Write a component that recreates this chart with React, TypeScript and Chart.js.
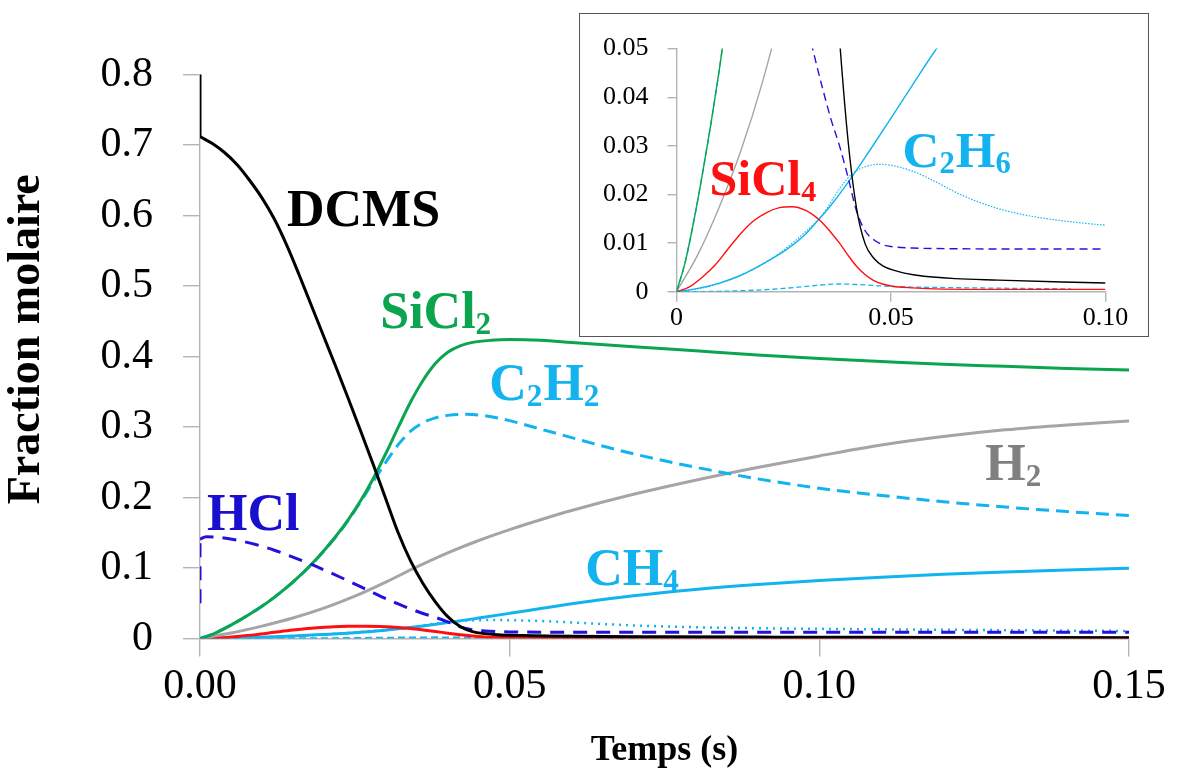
import React, { useEffect, useRef } from 'react';
import { Chart, registerables } from 'chart.js';

Chart.register(...registerables);

const FONT = '"Liberation Serif", "Times New Roman", serif';
const GREY = '#b4b4b4';

// ---------- data (time in s, molar fraction) ----------
// a repeated first time value marks the initial jump drawn as a vertical segment
const DCMS_T = [0, 0, 0.002, 0.004, 0.006, 0.008, 0.010, 0.012, 0.014, 0.016, 0.018, 0.020, 0.022, 0.024, 0.026, 0.028, 0.030, 0.032, 0.034, 0.036, 0.038, 0.040, 0.042, 0.044, 0.046, 0.048, 0.052, 0.056, 0.065, 0.075, 0.09, 0.10, 0.12, 0.15];
const DCMS_Y = [0.80, 0.712, 0.702, 0.689, 0.672, 0.650, 0.625, 0.595, 0.558, 0.516, 0.472, 0.428, 0.384, 0.339, 0.293, 0.246, 0.198, 0.150, 0.110, 0.078, 0.052, 0.031, 0.017, 0.0098, 0.0069, 0.0054, 0.0041, 0.0034, 0.0027, 0.0024, 0.0020, 0.0018, 0.0015, 0.0012];

const SICL2_T = [0, 0.002, 0.004, 0.006, 0.008, 0.010, 0.012, 0.014, 0.016, 0.018, 0.020, 0.022, 0.024, 0.026, 0.028, 0.030, 0.032, 0.034, 0.036, 0.038, 0.040, 0.042, 0.044, 0.047, 0.050, 0.055, 0.060, 0.070, 0.080, 0.090, 0.100, 0.110, 0.120, 0.130, 0.140, 0.150];
const SICL2_Y = [0, 0.0060, 0.0144, 0.0240, 0.0344, 0.0458, 0.0584, 0.0724, 0.0880, 0.1054, 0.1246, 0.1458, 0.1694, 0.1964, 0.2274, 0.2624, 0.2994, 0.3354, 0.3660, 0.3900, 0.4060, 0.4150, 0.4200, 0.4230, 0.4240, 0.4230, 0.4200, 0.4140, 0.4080, 0.4020, 0.3970, 0.3930, 0.3890, 0.3860, 0.3830, 0.3810];

const C2H2_T = [0, 0.002, 0.004, 0.006, 0.008, 0.010, 0.012, 0.014, 0.016, 0.018, 0.020, 0.022, 0.024, 0.026, 0.028, 0.030, 0.032, 0.034, 0.036, 0.038, 0.040, 0.043, 0.046, 0.050, 0.055, 0.060, 0.065, 0.070, 0.075, 0.080, 0.085, 0.090, 0.095, 0.100, 0.110, 0.120, 0.130, 0.140, 0.150];
const C2H2_Y = [0, 0.0060, 0.0144, 0.0240, 0.0344, 0.0458, 0.0584, 0.0724, 0.0878, 0.1050, 0.1240, 0.1450, 0.1682, 0.1950, 0.2230, 0.2500, 0.2750, 0.2940, 0.3060, 0.3130, 0.3165, 0.3180, 0.3160, 0.3090, 0.2970, 0.2850, 0.2730, 0.2620, 0.2520, 0.2430, 0.2345, 0.2265, 0.2195, 0.2130, 0.2030, 0.1940, 0.1865, 0.1800, 0.1745];

const H2_T = [0, 0.005, 0.010, 0.015, 0.020, 0.025, 0.030, 0.035, 0.040, 0.045, 0.050, 0.055, 0.060, 0.070, 0.080, 0.090, 0.100, 0.110, 0.120, 0.130, 0.140, 0.150];
const H2_Y = [0, 0.0077, 0.0175, 0.0290, 0.0430, 0.0600, 0.0800, 0.1015, 0.1215, 0.1390, 0.1545, 0.1685, 0.1815, 0.2045, 0.2245, 0.2425, 0.2590, 0.2745, 0.2865, 0.2960, 0.3030, 0.3085];

const HCL_T = [0, 0, 0.001, 0.003, 0.006, 0.009, 0.012, 0.015, 0.018, 0.021, 0.024, 0.027, 0.030, 0.032, 0.034, 0.036, 0.038, 0.040, 0.042, 0.044, 0.046, 0.048, 0.050, 0.055, 0.060, 0.080, 0.100, 0.120, 0.150];
const HCL_Y = [0.05, 0.141, 0.1444, 0.1435, 0.1395, 0.1333, 0.1252, 0.1155, 0.1050, 0.0935, 0.0815, 0.0690, 0.0565, 0.0490, 0.0420, 0.0355, 0.0300, 0.0235, 0.0165, 0.0125, 0.0107, 0.0097, 0.0093, 0.0090, 0.0089, 0.0088, 0.0088, 0.0088, 0.0088];

const CH4_T = [0, 0.005, 0.010, 0.015, 0.020, 0.025, 0.030, 0.033, 0.036, 0.040, 0.045, 0.050, 0.055, 0.060, 0.065, 0.070, 0.080, 0.090, 0.100, 0.110, 0.120, 0.130, 0.140, 0.150];
const CH4_Y = [0, 0.0007, 0.0018, 0.0034, 0.0057, 0.0083, 0.0118, 0.0147, 0.0178, 0.0225, 0.0290, 0.0357, 0.0425, 0.0492, 0.0552, 0.0605, 0.0695, 0.0765, 0.0822, 0.0870, 0.0910, 0.0945, 0.0972, 0.0995];

const C2H6_T = [0, 0.005, 0.010, 0.015, 0.020, 0.025, 0.030, 0.034, 0.038, 0.041, 0.044, 0.047, 0.050, 0.055, 0.060, 0.065, 0.070, 0.075, 0.080, 0.085, 0.090, 0.095, 0.100, 0.110, 0.120, 0.130, 0.140, 0.150];
const C2H6_Y = [0, 0.0006, 0.0017, 0.0034, 0.0056, 0.0086, 0.0123, 0.0158, 0.0212, 0.0243, 0.0257, 0.0262, 0.0260, 0.0248, 0.0228, 0.0205, 0.0186, 0.0171, 0.0160, 0.0152, 0.0146, 0.0141, 0.0137, 0.0130, 0.0124, 0.0118, 0.0112, 0.0107];

const SICL4_T = [0, 0.003, 0.006, 0.009, 0.012, 0.015, 0.018, 0.021, 0.024, 0.027, 0.030, 0.032, 0.034, 0.036, 0.038, 0.040, 0.042, 0.044, 0.046, 0.048, 0.050, 0.055, 0.060, 0.070, 0.100, 0.150];
const SICL4_Y = [0, 0.0010, 0.0030, 0.0055, 0.0088, 0.0120, 0.0146, 0.0163, 0.0173, 0.0175, 0.0168, 0.0157, 0.0142, 0.0122, 0.0100, 0.0075, 0.0052, 0.0035, 0.0023, 0.0016, 0.0012, 0.0008, 0.0006, 0.0005, 0.0005, 0.0004];

const C2H4_T = [0, 0.010, 0.020, 0.025, 0.030, 0.035, 0.038, 0.042, 0.046, 0.050, 0.060, 0.070, 0.080, 0.092];
const C2H4_Y = [0, 0.0001, 0.0004, 0.0007, 0.0011, 0.0015, 0.0016, 0.0015, 0.0013, 0.0011, 0.0009, 0.0008, 0.0007, 0.0006];

// ---------- ticks & titles ----------
const MAIN_X_TICKS = [0, 0.05, 0.1, 0.15];
const MAIN_X_LABELS = ['0.00', '0.05', '0.10', '0.15'];
const MAIN_Y_TICKS = [0, 0.1, 0.2, 0.3, 0.4, 0.5, 0.6, 0.7, 0.8];
const MAIN_Y_LABELS = ['0', '0.1', '0.2', '0.3', '0.4', '0.5', '0.6', '0.7', '0.8'];
const INSET_X_TICKS = [0, 0.05, 0.1];
const INSET_X_LABELS = ['0', '0.05', '0.10'];
const INSET_Y_TICKS = [0, 0.01, 0.02, 0.03, 0.04, 0.05];
const INSET_Y_LABELS = ['0', '0.01', '0.02', '0.03', '0.04', '0.05'];
const X_TITLE = 'Temps (s)';
const Y_TITLE = 'Fraction molaire';

// ---------- series styles ----------
type Series = { t: number[]; y: number[]; color: string; dash: number[]; dashInset: number[]; w: number; wInset: number };
const SERIES: Series[] = [
  { t: DCMS_T, y: DCMS_Y, color: '#000000', dash: [], dashInset: [], w: 3, wInset: 1.4 },
  { t: HCL_T, y: HCL_Y, color: '#2412dc', dash: [14, 9], dashInset: [8, 5], w: 3, wInset: 1.4 },
  { t: SICL2_T, y: SICL2_Y, color: '#0aa54e', dash: [], dashInset: [], w: 3, wInset: 1.4 },
  { t: C2H2_T, y: C2H2_Y, color: '#12b3ee', dash: [13, 7], dashInset: [6, 4], w: 3, wInset: 1.4 },
  { t: H2_T, y: H2_Y, color: '#a5a5a5', dash: [], dashInset: [], w: 3, wInset: 1.4 },
  { t: SICL4_T, y: SICL4_Y, color: '#ff1010', dash: [], dashInset: [], w: 3, wInset: 1.4 },
  { t: CH4_T, y: CH4_Y, color: '#12b3ee', dash: [], dashInset: [], w: 3, wInset: 1.4 },
  { t: C2H6_T, y: C2H6_Y, color: '#12b3ee', dash: [2, 5], dashInset: [1.5, 1.5], w: 2.5, wInset: 1.2 },
  { t: C2H4_T, y: C2H4_Y, color: '#12b3ee', dash: [7, 4], dashInset: [5, 3], w: 2, wInset: 1.3 },
];

// ---------- species labels (data coordinates of left/baseline) ----------
type Lbl = { text: string; x: number; y: number; size: number; color: string };
const MAIN_LABELS: Lbl[] = [
  { text: 'DCMS', x: 0.01405, y: 0.585, size: 52, color: '#000000' },
  { text: 'SiCl₂', x: 0.0291, y: 0.4404, size: 52, color: '#0aa54e' },
  { text: 'C₂H₂', x: 0.0467, y: 0.338, size: 52, color: '#12b3ee' },
  { text: 'H₂', x: 0.1268, y: 0.2248, size: 52, color: '#808080' },
  { text: 'HCl', x: 0.00113, y: 0.1539, size: 52, color: '#1a0fcf' },
  { text: 'CH₄', x: 0.0622, y: 0.0759, size: 52, color: '#12b3ee' },
];
const INSET_LABELS: Lbl[] = [
  { text: 'SiCl₄', x: 0.0077, y: 0.01993, size: 50, color: '#ff1010' },
  { text: 'C₂H₆', x: 0.0527, y: 0.02567, size: 51, color: '#12b3ee' },
];

const SUBS: Record<string, string> = { '₀': '0', '₁': '1', '₂': '2', '₃': '3', '₄': '4', '₅': '5', '₆': '6', '₇': '7', '₈': '8', '₉': '9' };

function drawRich(ctx: CanvasRenderingContext2D, text: string, x: number, y: number, size: number, color: string) {
  const segs: { t: string; sub: boolean }[] = [];
  for (const ch of Array.from(text)) {
    const sub = ch in SUBS;
    const c = sub ? SUBS[ch] : ch;
    const last = segs[segs.length - 1];
    if (last && last.sub === sub) last.t += c;
    else segs.push({ t: c, sub });
  }
  ctx.fillStyle = color;
  ctx.textAlign = 'left';
  ctx.textBaseline = 'alphabetic';
  let cx = x;
  for (const s of segs) {
    const fs = s.sub ? size * 0.6 : size;
    ctx.font = `bold ${fs}px ${FONT}`;
    ctx.fillText(s.t, cx, s.sub ? y + size * 0.12 : y);
    cx += ctx.measureText(s.t).width + (s.sub ? 1 : 0);
  }
}

function labelPlugin(labels: Lbl[]) {
  return {
    id: 'speciesLabels',
    afterDatasetsDraw(chart: any) {
      const ctx = chart.ctx as CanvasRenderingContext2D;
      const xs = chart.scales.x;
      const ys = chart.scales.y;
      ctx.save();
      for (const l of labels) drawRich(ctx, l.text, xs.getPixelForValue(l.x), ys.getPixelForValue(l.y), l.size, l.color);
      ctx.restore();
    },
  };
}

function makeDatasets(inset: boolean) {
  const out: any[] = [];
  for (const s of SERIES) {
    const pts = s.t.map((x, i) => ({ x, y: s.y[i] }));
    const base = {
      borderColor: s.color,
      backgroundColor: s.color,
      borderWidth: inset ? s.wInset : s.w,
      borderDash: inset ? s.dashInset : s.dash,
      borderJoinStyle: 'round' as const,
      pointRadius: 0,
      pointHoverRadius: 0,
      fill: false,
    };
    let rest = pts;
    if (pts.length > 1 && pts[0].x === pts[1].x) {
      // initial vertical jump, drawn straight
      out.push({ ...base, data: pts.slice(0, 2), tension: 0 });
      rest = pts.slice(1);
    }
    out.push({ ...base, data: rest, cubicInterpolationMode: 'monotone' as const });
  }
  return out;
}

function axis(opts: {
  ticks: number[]; labels: string[]; min: number; max: number; size: number; tickLen: number; pad: number;
  fit: number; isX: boolean; title?: string; titleSize?: number; titlePad?: any;
}) {
  return {
    type: 'linear' as const,
    min: opts.min,
    max: opts.max,
    afterBuildTicks: (s: any) => { s.ticks = opts.ticks.map((v) => ({ value: v })); },
    afterFit: (s: any) => { if (opts.isX) s.height = opts.fit; else s.width = opts.fit; },
    ticks: {
      callback: (_v: any, i: number) => opts.labels[i],
      font: { family: FONT, size: opts.size },
      color: '#000',
      padding: opts.pad,
      maxRotation: 0,
      autoSkip: false,
    },
    grid: { display: true, drawOnChartArea: false, drawTicks: true, tickLength: opts.tickLen, color: GREY, lineWidth: 1.4 },
    border: { display: true, color: GREY, width: 1.4 },
    title: opts.title
      ? { display: true, text: opts.title, color: '#000', font: { family: FONT, size: opts.titleSize, weight: 'bold' as const }, padding: opts.titlePad }
      : { display: false },
  };
}

function MainChart() {
  const ref = useRef<HTMLCanvasElement | null>(null);
  useEffect(() => {
    if (!ref.current) return;
    const chart = new Chart(ref.current, {
      type: 'line',
      data: { datasets: makeDatasets(false) },
      options: {
        animation: false,
        responsive: false,
        devicePixelRatio: 1,
        events: [],
        layout: { padding: { left: 0, top: 74.5, right: 48, bottom: 0 } },
        plugins: { legend: { display: false }, tooltip: { enabled: false } },
        scales: {
          x: axis({ ticks: MAIN_X_TICKS, labels: MAIN_X_LABELS, min: 0, max: 0.15, size: 42, tickLen: 18, pad: 5, fit: 139.5, isX: true, title: X_TITLE, titleSize: 36, titlePad: { top: 0, bottom: 6 } }),
          // leading spaces lift the rotated title slightly above the axis centre, as in the reference
          y: axis({ ticks: MAIN_Y_TICKS, labels: MAIN_Y_LABELS, min: 0, max: 0.8, size: 42, tickLen: 17, pad: 30, fit: 200, isX: false, title: '   ' + Y_TITLE, titleSize: 46, titlePad: { top: 0, bottom: 0 } }),
        },
      } as any,
      plugins: [labelPlugin(MAIN_LABELS)],
    });
    return () => chart.destroy();
  }, []);
  return <canvas ref={ref} width={1177} height={778} style={{ display: 'block', position: 'absolute', left: 0, top: 0 }} />;
}

function InsetChart() {
  const ref = useRef<HTMLCanvasElement | null>(null);
  useEffect(() => {
    if (!ref.current) return;
    const chart = new Chart(ref.current, {
      type: 'line',
      data: { datasets: makeDatasets(true) },
      options: {
        animation: false,
        responsive: false,
        devicePixelRatio: 1,
        events: [],
        layout: { padding: { left: 0, top: 16.2, right: 41.5, bottom: 0 } },
        plugins: { legend: { display: false }, tooltip: { enabled: false } },
        scales: {
          x: axis({ ticks: INSET_X_TICKS, labels: INSET_X_LABELS, min: 0, max: 0.1, size: 26, tickLen: 10, pad: 1, fit: 43.2, isX: true }),
          y: axis({ ticks: INSET_Y_TICKS, labels: INSET_Y_LABELS, min: 0, max: 0.05, size: 26, tickLen: 9, pad: 19, fit: 96.5, isX: false }),
        },
      } as any,
      plugins: [labelPlugin(INSET_LABELS)],
    });
    return () => chart.destroy();
  }, []);
  return <canvas ref={ref} width={567} height={321} style={{ display: 'block' }} />;
}

export default function App() {
  return (
    <div style={{ position: 'fixed', left: 0, top: 0, width: 1177, height: 778, background: '#fff', overflow: 'hidden' }}>
      <MainChart />
      <div
        style={{
          position: 'absolute', left: 579, top: 13, width: 570, height: 324, boxSizing: 'border-box',
          border: '1.5px solid #555', background: '#fff',
        }}
      >
        <InsetChart />
      </div>
    </div>
  );
}
